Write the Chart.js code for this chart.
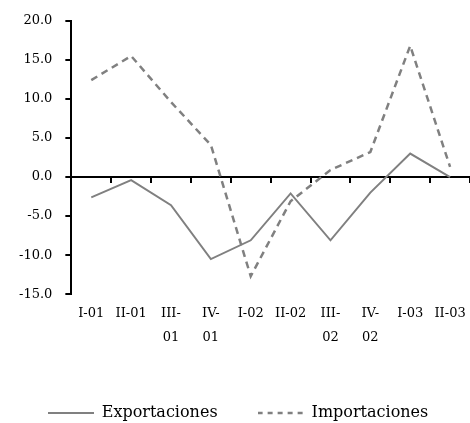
<!DOCTYPE html>
<html>
<head>
<meta charset="utf-8">
<script src="https://cdn.jsdelivr.net/npm/chart.js@4"></script>
<style>
  html, body { margin: 0; padding: 0; background: #fff; }
  #wrap { width: 470px; height: 423px; }
</style>
</head>
<body>
<div id="wrap"><canvas id="chart"></canvas></div>
<script>
const quarters = ['I-01', 'II-01', ['III-', '01'], ['IV-', '01'], 'I-02', 'II-02', ['III-', '02'], ['IV-', '02'], 'I-03', 'II-03'];
const exportaciones = [-2.6, -0.4, -3.6, -10.5, -8.1, -2.1, -8.1, -2.0, 3.0, 0.0];
const importaciones = [12.4, 15.5, 9.6, 4.1, -12.7, -3.1, 0.9, 3.2, 16.8, 1.3];
const yMin = -15, yMax = 20, yStep = 5;

Chart.defaults.font.family = "'DejaVu Serif', serif";
Chart.defaults.font.size = 13;
Chart.defaults.color = "#000";

// little line samples for the legend (the built-in 'line' style ignores dashes)
function sample(dash, width) {
    const c = document.createElement('canvas');
    c.width = 46; c.height = 4;
    const g = c.getContext('2d');
    g.strokeStyle = '#808080';
    g.lineWidth = width;
    g.setLineDash(dash);
    g.beginPath(); g.moveTo(0, 2); g.lineTo(46, 2); g.stroke();
    return c;
}

new Chart(document.getElementById("chart"), {
    type: 'line',
    data: {
        labels: quarters,
        datasets: [{
            label: 'Exportaciones',
            data: exportaciones,
            borderColor: '#808080',
            borderWidth: 2,
            pointRadius: 0,
            pointStyle: sample([], 2),
            tension: 0
        }, {
            label: 'Importaciones',
            data: importaciones,
            borderColor: '#808080',
            borderWidth: 2.5,
            borderDash: [7, 5],
            pointRadius: 0,
            pointStyle: sample([5, 5], 2.5),
            tension: 0
        }]
    },
    options: {
        responsive: true,
        maintainAspectRatio: false,
        animation: false,
        layout: { padding: { left: 6, right: 0, top: 20, bottom: -8 } },
        plugins: {
            tooltip: { enabled: false },
            legend: {
                position: 'bottom',
                labels: {
                    usePointStyle: true,
                    pointStyleWidth: 46,
                    padding: 40,
                    color: '#000',
                    font: { size: 16 }
                }
            }
        },
        scales: {
            x: {
                offset: true,
                border: { display: false },
                // invisible tick marks, only used to space the labels off the plot
                grid: { drawOnChartArea: false, drawTicks: true, tickLength: 8, color: 'rgba(0,0,0,0)' },
                ticks: { padding: 0, maxRotation: 0, autoSkip: false, font: { lineHeight: 1.8 } },
                // empty title: just a gap between the labels and the legend
                title: { display: true, text: '', font: { size: 1, lineHeight: 1 }, padding: { top: 0, bottom: 15 } }
            },
            zero: {
                axis: 'x',
                type: 'category',
                labels: quarters,
                position: { y: 0 },
                offset: true,
                border: { display: true, color: '#000', width: 2 },
                grid: { offset: true, drawOnChartArea: false, drawTicks: true, tickLength: 5, color: '#000', lineWidth: 2 },
                ticks: { display: false }
            },
            y: {
                min: yMin,
                max: yMax,
                border: { color: '#000', width: 2 },
                grid: { drawOnChartArea: false, tickLength: 6, color: '#000', lineWidth: 2 },
                ticks: {
                    stepSize: yStep,
                    padding: 13,
                    callback: v => v.toFixed(1)
                }
            }
        }
    }
});
</script>
</body>
</html>
